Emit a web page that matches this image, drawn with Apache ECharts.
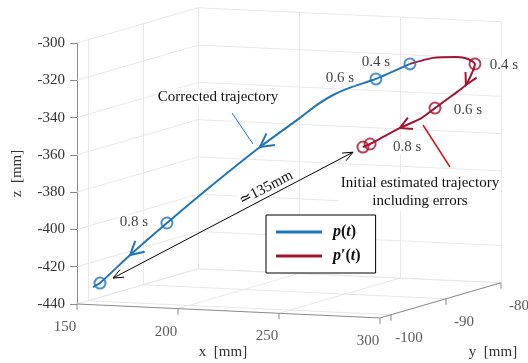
<!DOCTYPE html>
<html>
<head>
<meta charset="utf-8">
<script src="https://cdn.jsdelivr.net/npm/echarts@6/dist/echarts.min.js"></script>
<style>
html,body{margin:0;padding:0;background:#fff;}
#chart{width:528px;height:363px;}
</style>
</head>
<body>
<div id="chart"></div>
<script>
// axis ranges and ticks (mm)
var xRange = [150, 300], yRange = [-102, -80], zRange = [-440, -300];
var xTicks = [150, 200, 250, 300];
var yTicks = [-100, -90, -80];
var zTicks = [-440, -420, -400, -380, -360, -340, -320, -300];

// corrected trajectory p(t)
var blueX = [276.7, 262.6, 252.1, 244.1, 237.5, 230.4, 216.1, 198.1, 180.9, 168.1, 157.3, 155.2];
var blueY = [-88, -89, -89.5, -90, -90.5, -91, -93, -95.5, -97, -99, -100.5, -101];
var blueZ = [-316.9, -324.8, -329.2, -333.5, -338.7, -345.6, -360.2, -380.4, -399.3, -415.4, -429.7, -431.5];

// initial estimate p'(t)
var redX = [276.7, 285.4, 291.8, 295.9, 298.0, 297.9, 297.6, 293.9, 289.1, 285.8, 281.3, 277.0, 273.3, 272.5];
var redY = [-88, -87, -85, -84.5, -84, -84.5, -85.5, -86.5, -88, -89.5, -91.5, -93, -94, -95];
var redZ = [-316.9, -314.1, -315.0, -316.3, -319.3, -323.7, -329.3, -334.0, -340.0, -344.7, -348.0, -351.8, -354.9, -355.7];

// time markers (index into the paths) and their texts
var blueMarks = [0, 1, 8, 10], blueMarkText = ['0.4 s', '0.6 s', '0.8 s', ''];
var redMarks = [4, 8, 12, 13], redMarkText = ['0.4 s', '0.6 s', '0.8 s', ''];
var blueArrows = [6, 9], redArrows = [6, 10];

// distance between the two end points
var gapStart = [162.4, -100, -427.2], gapEnd = [267.6, -95, -358.7];
var gapText = '\u2243135mm';

var FONT = '"Liberation Serif", "Times New Roman", serif';
var BLUE = '#1f74bb', RED = '#a2142f', GRID = '#e8e8e8', AXIS = '#8a8a8a', TXT = '#333';

// box placement on the page
var W = 528, H = 363, boxLeft = 77, boxTop = 43, boxBottom = 304;
var pxPerX = 2.02, pxPerZ = (boxBottom - boxTop) / (zRange[1] - zRange[0]);

// oblique view: y and x shifts expressed in x / z units of the 2d axes
function P(x, y, z) {
  return [x + (y - yRange[0]) * 5.5 / pxPerX,
          z - (x - xRange[0]) * 0.093 / pxPerZ + (y - yRange[0]) * 1.6 / pxPerZ];
}
function path(X, Y, Z) {
  return X.map(function (_, i) { return P(X[i], Y[i], Z[i]); });
}
var bluePath = path(blueX, blueY, blueZ);
var redPath = path(redX, redY, redZ);

var gridSegs = [];
zTicks.forEach(function (z) {
  gridSegs.push([P(xRange[0], yRange[0], z), P(xRange[0], yRange[1], z)]);
  gridSegs.push([P(xRange[0], yRange[1], z), P(xRange[1], yRange[1], z)]);
});
yTicks.forEach(function (y) {
  gridSegs.push([P(xRange[0], y, zRange[0]), P(xRange[0], y, zRange[1])]);
  gridSegs.push([P(xRange[0], y, zRange[0]), P(xRange[1], y, zRange[0])]);
});
xTicks.forEach(function (x) {
  gridSegs.push([P(x, yRange[1], zRange[0]), P(x, yRange[1], zRange[1])]);
  gridSegs.push([P(x, yRange[0], zRange[0]), P(x, yRange[1], zRange[0])]);
});
var axisSegs = [
  [P(xRange[0], yRange[0], zRange[0]), P(xRange[1], yRange[0], zRange[0])],
  [P(xRange[1], yRange[0], zRange[0]), P(xRange[1], yRange[1], zRange[0])]
];
var xTickPts = xTicks.map(function (x) { return P(x, yRange[0], zRange[0]); });
var yTickPts = yTicks.map(function (y) { return P(xRange[1], y, zRange[0]); });

function marks(pathPts, idx, texts, offsets) {
  return idx.map(function (i, k) {
    return {
      value: pathPts[i],
      label: {show: texts[k] !== '', formatter: texts[k], position: 'inside', offset: offsets[k]}
    };
  });
}
function arrows(pathPts, idx) {
  return idx.map(function (i) {
    return pathPts[i].concat(pathPts[i - 1]);
  });
}
function arrowHead(len, half, width, color) {
  return function (params, api) {
    var tip = api.coord([api.value(0), api.value(1)]);
    var from = api.coord([api.value(2), api.value(3)]);
    var a = Math.atan2(tip[1] - from[1], tip[0] - from[0]);
    var p1 = [tip[0] - len * Math.cos(a - half), tip[1] - len * Math.sin(a - half)];
    var p2 = [tip[0] - len * Math.cos(a + half), tip[1] - len * Math.sin(a + half)];
    return {type: 'polyline', shape: {points: [p1, tip, p2]}, style: {stroke: color, lineWidth: width, fill: null}};
  };
}

var gs = P(gapStart[0], gapStart[1], gapStart[2]);
var ge = P(gapEnd[0], gapEnd[1], gapEnd[2]);

// the full-page grid (index 1) carries the marks, on the same scale as the z axis grid (index 0)
var onPage = {xAxisIndex: 1, yAxisIndex: 1};
function S(o) { return Object.assign({}, onPage, o); }

var markLabel = {fontFamily: FONT, fontSize: 15, color: '#111', backgroundColor: '#fff', padding: [0, 1]};
var note = function (o) {
  return Object.assign({font: '15px ' + FONT, fill: '#111', backgroundColor: '#fff', padding: [1, 2]}, o);
};

var chart = echarts.init(document.getElementById('chart'));
chart.setOption({
  animation: false,
  textStyle: {fontFamily: FONT},
  grid: [
    {left: boxLeft, right: 148, top: boxTop, bottom: H - boxBottom},
    {left: boxLeft, right: 0, top: 0, bottom: 0}
  ],
  xAxis: [
    {gridIndex: 0, type: 'value', min: xRange[0], max: xRange[1], show: false},
    {gridIndex: 1, type: 'value', min: xRange[0], max: xRange[0] + (W - boxLeft) / pxPerX, show: false}
  ],
  yAxis: [
    {
      gridIndex: 0, type: 'value', min: zRange[0], max: zRange[1], interval: 20,
      name: 'z  [mm]', nameLocation: 'middle', nameRotate: 90, nameGap: 52,
      nameTextStyle: {fontFamily: FONT, fontSize: 15, color: TXT},
      axisLine: {show: true, lineStyle: {color: AXIS, width: 1}},
      axisTick: {show: true, length: 7, lineStyle: {color: AXIS}},
      axisLabel: {fontFamily: FONT, fontSize: 15, color: TXT, margin: 12},
      splitLine: {show: false}
    },
    {
      gridIndex: 1, type: 'value', show: false,
      min: zRange[0] - (H - boxBottom) / pxPerZ, max: zRange[0] + boxBottom / pxPerZ
    }
  ],
  legend: {
    orient: 'vertical', left: 266, top: 215,
    padding: [9, 15, 9, 10], itemGap: 8,
    itemWidth: 46, itemHeight: 3, icon: 'rect',
    borderColor: '#000', borderWidth: 1, borderRadius: 0, backgroundColor: '#fff',
    data: ['p', 'pp'],
    formatter: function (name) {
      return name === 'p' ? '{b|p}{n|(}{i|t}{n|)}' : '{b|p}{n|\u2032(}{i|t}{n|)}';
    },
    textStyle: {
      padding: [0, 0, 0, 6],
      rich: {
        b: {fontFamily: FONT, fontSize: 16, fontWeight: 'bold', fontStyle: 'italic', color: '#111'},
        n: {fontFamily: FONT, fontSize: 16, fontWeight: 'bold', color: '#111'},
        i: {fontFamily: FONT, fontSize: 16, fontWeight: 'bold', fontStyle: 'italic', color: '#111'}
      }
    }
  },
  series: [
    S({
      type: 'lines', coordinateSystem: 'cartesian2d', silent: true, z: 1,
      data: gridSegs.map(function (s) { return {coords: s}; }),
      lineStyle: {color: GRID, width: 1, opacity: 1}
    }),
    S({
      type: 'lines', coordinateSystem: 'cartesian2d', silent: true, z: 2,
      data: axisSegs.map(function (s) { return {coords: s}; }),
      lineStyle: {color: AXIS, width: 1, opacity: 1}
    }),
    S({
      type: 'custom', silent: true, z: 2,
      data: xTickPts.concat(yTickPts),
      renderItem: function (params, api) {
        var p = api.coord([api.value(0), api.value(1)]);
        return {type: 'line', shape: {x1: p[0], y1: p[1], x2: p[0], y2: p[1] + 6}, style: {stroke: AXIS, lineWidth: 1}};
      }
    }),
    S({
      type: 'scatter', silent: true, symbolSize: 1, itemStyle: {color: 'rgba(0,0,0,0)'},
      data: xTickPts.map(function (p, i) {
        return {value: p, label: {show: true, formatter: String(xTicks[i]), position: 'inside', offset: [-12, 23]}};
      }).concat(yTickPts.map(function (p, i) {
        return {value: p, label: {show: true, formatter: String(yTicks[i]), position: 'inside', offset: [18, 23]}};
      })),
      label: {fontFamily: FONT, fontSize: 15, color: TXT}
    }),
    S({
      name: 'p', type: 'line', data: bluePath, showSymbol: false, smooth: 0.2, z: 5,
      color: BLUE, lineStyle: {color: BLUE, width: 2}
    }),
    S({
      name: 'pp', type: 'line', data: redPath, showSymbol: false, smooth: 0.2, z: 4,
      color: RED, lineStyle: {color: RED, width: 2}
    }),
    S({
      type: 'scatter', symbol: 'circle', symbolSize: 11, z: 6, silent: true,
      itemStyle: {color: 'rgba(0,0,0,0)', borderColor: BLUE, borderWidth: 2},
      label: markLabel,
      data: marks(bluePath, blueMarks, blueMarkText, [[-34, -2], [-36, -1], [-33, -1], [0, 0]])
    }),
    S({
      type: 'scatter', symbol: 'circle', symbolSize: 11, z: 6, silent: true,
      itemStyle: {color: 'rgba(0,0,0,0)', borderColor: RED, borderWidth: 2},
      label: markLabel,
      data: marks(redPath, redMarks, redMarkText, [[29, 1], [33, 2], [37, 3], [0, 0]])
    }),
    S({
      type: 'custom', silent: true, z: 6,
      data: arrows(bluePath, blueArrows), renderItem: arrowHead(15, 0.5, 2, BLUE)
    }),
    S({
      type: 'custom', silent: true, z: 6,
      data: arrows(redPath, redArrows), renderItem: arrowHead(13, 0.5, 2, RED)
    }),
    S({
      type: 'lines', coordinateSystem: 'cartesian2d', silent: true, z: 6,
      data: [{coords: [gs, ge]}], lineStyle: {color: '#000', width: 1, opacity: 1}
    }),
    S({
      type: 'custom', silent: true, z: 6,
      data: [ge.concat(gs), gs.concat(ge)], renderItem: arrowHead(11, 0.4, 1, '#000')
    })
  ],
  graphic: [
    {type: 'text', x: 218, y: 97, z: 10, style: note({text: 'Corrected trajectory', align: 'center', verticalAlign: 'middle'})},
    {type: 'line', z: 10, shape: {x1: 232, y1: 113, x2: 253, y2: 144}, style: {stroke: BLUE, lineWidth: 1}},
    {type: 'text', x: 420, y: 192, z: 10, style: note({text: 'Initial estimated trajectory\nincluding errors', align: 'center', verticalAlign: 'middle', lineHeight: 18})},
    {type: 'line', z: 10, shape: {x1: 423, y1: 125, x2: 450, y2: 167}, style: {stroke: '#d01818', lineWidth: 1.5}},
    {type: 'text', x: 266, y: 188, z: 10, rotation: 0.483, style: note({text: gapText, align: 'center', verticalAlign: 'middle', padding: 0})},
    {type: 'text', x: 223, y: 352, style: {text: 'x  [mm]', font: '15px ' + FONT, fill: TXT, align: 'center', verticalAlign: 'middle'}},
    {type: 'text', x: 493, y: 352, style: {text: 'y  [mm]', font: '15px ' + FONT, fill: TXT, align: 'center', verticalAlign: 'middle'}}
  ]
});
</script>
</body>
</html>
